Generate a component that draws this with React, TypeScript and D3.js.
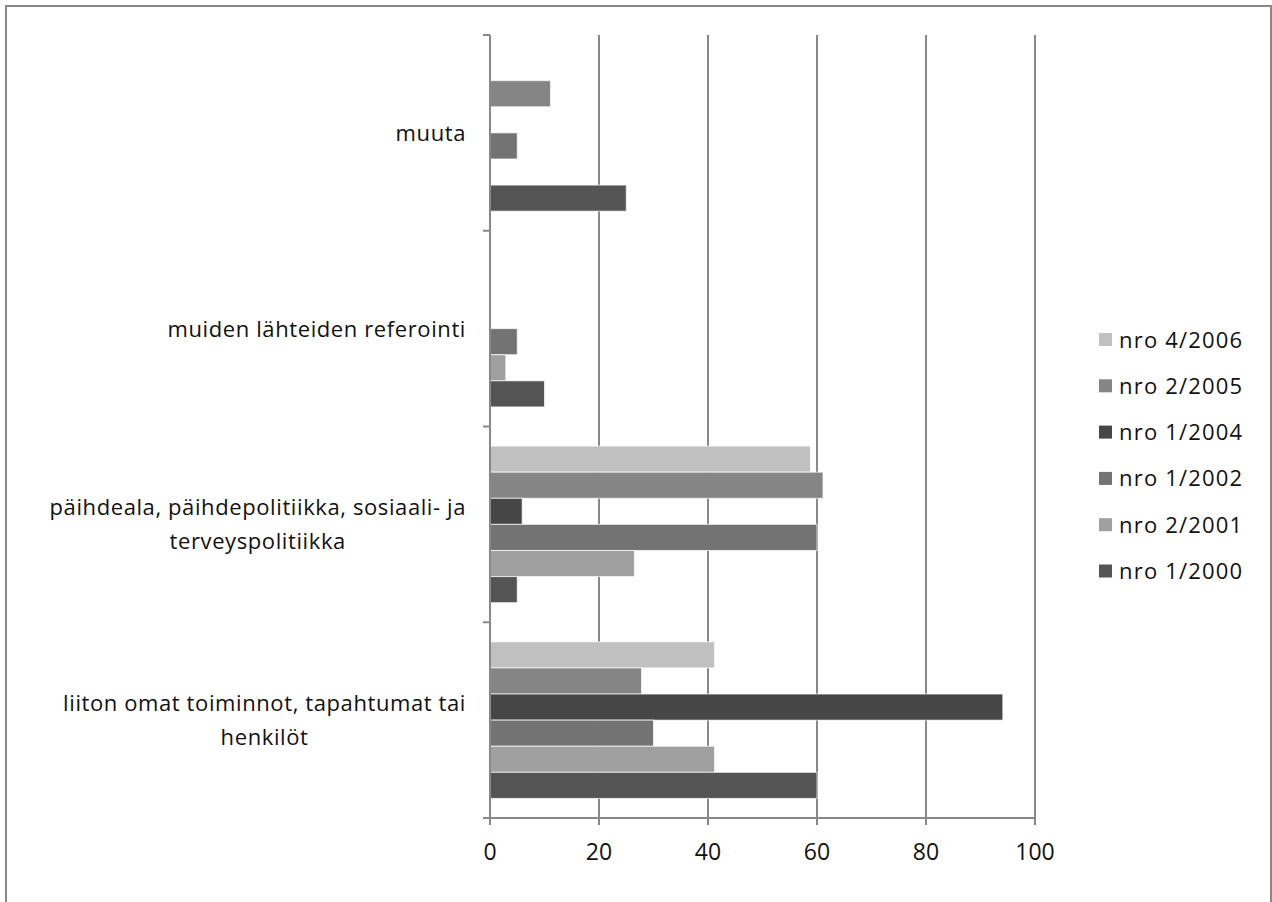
import React, { useEffect, useRef } from "react";
import * as d3 from "d3";

// Categories, top to bottom as displayed
const categories = [
  "muuta",
  "muiden lähteiden referointi",
  "päihdeala, päihdepolitiikka, sosiaali- ja|terveyspolitiikka",
  "liiton omat toiminnot, tapahtumat tai|henkilöt",
];

// Series, top to bottom within each group (also legend order)
const seriesNames = ["nro 4/2006", "nro 2/2005", "nro 1/2004", "nro 1/2002", "nro 2/2001", "nro 1/2000"];
const seriesColors = ["#c0c0c0", "#858585", "#464646", "#737373", "#a0a0a0", "#555555"];

// values per series, in category order [muuta, muiden, päihdeala, liiton]
const s2006_4 = [0, 0, 58.8, 41.2];
const s2005_2 = [11.1, 0, 61.1, 27.8];
const s2004_1 = [0, 0, 5.9, 94.1];
const s2002_1 = [5, 5, 60, 30];
const s2001_2 = [0, 2.9, 26.5, 41.2];
const s2000_1 = [25, 10, 5, 60];
const seriesValues = [s2006_4, s2005_2, s2004_1, s2002_1, s2001_2, s2000_1];

const xTicks = [0, 20, 40, 60, 80, 100];

const W = 1272;
const H = 902;
const FONT = "'Open Sans', Lato, sans-serif";

export default function App() {
  const ref = useRef<SVGSVGElement>(null);

  useEffect(() => {
    const svg = d3.select(ref.current);
    svg.selectAll("*").remove();

    const left = 490, right = 1035, top = 35, bottom = 818;
    const x = d3.scaleLinear().domain([0, 100]).range([left, right]);
    const y = d3.scaleBand<string>().domain(categories).range([top, bottom]).paddingInner(0).paddingOuter(0);
    const bw = y.bandwidth();
    const inner = d3.scaleBand<string>().domain(seriesNames).range([bw * 0.1, bw * 0.9]).padding(0);

    // frame
    svg.append("rect").attr("x", 6).attr("y", 6).attr("width", 1265).attr("height", 910)
      .attr("fill", "#fff").attr("stroke", "#888").attr("stroke-width", 2);

    // gridlines
    svg.append("g").selectAll("line").data(xTicks.filter(t => t > 0)).join("line")
      .attr("x1", d => x(d)).attr("x2", d => x(d)).attr("y1", top).attr("y2", bottom)
      .attr("stroke", "#888").attr("stroke-width", 2);

    // bars
    const g = svg.append("g");
    seriesNames.forEach((s, si) => {
      g.append("g").selectAll("rect").data(seriesValues[si].map((v, ci) => ({ v, c: categories[ci] })).filter(d => d.v > 0))
        .join("rect")
        .attr("x", x(0)).attr("y", d => (y(d.c) as number) + (inner(s) as number))
        .attr("width", d => x(d.v) - x(0)).attr("height", inner.bandwidth())
        .attr("fill", seriesColors[si]).attr("stroke", "rgba(255,255,255,0.7)").attr("stroke-width", 1);
    });

    // y axis
    svg.append("line").attr("x1", left).attr("x2", left).attr("y1", top).attr("y2", bottom + 7)
      .attr("stroke", "#888").attr("stroke-width", 2);
    const yTickPos = categories.map(c => y(c) as number).concat([bottom]);
    svg.append("g").selectAll("line").data(yTickPos).join("line")
      .attr("x1", left - 7).attr("x2", left).attr("y1", d => d).attr("y2", d => d)
      .attr("stroke", "#888").attr("stroke-width", 2);

    // x axis
    svg.append("line").attr("x1", left - 7).attr("x2", right).attr("y1", bottom).attr("y2", bottom)
      .attr("stroke", "#888").attr("stroke-width", 2);
    svg.append("g").selectAll("line").data(xTicks).join("line")
      .attr("x1", d => x(d)).attr("x2", d => x(d)).attr("y1", bottom).attr("y2", bottom + 7)
      .attr("stroke", "#888").attr("stroke-width", 2);
    svg.append("g").selectAll("text").data(xTicks).join("text")
      .attr("x", d => x(d)).attr("y", 860).attr("text-anchor", "middle")
      .attr("font-family", FONT).attr("font-size", 23).attr("fill", "#111").text(d => String(d));

    // category labels
    const labelRight = 466;
    categories.forEach(c => {
      const lines = c.split("|");
      const cy = (y(c) as number) + bw / 2;
      const t = svg.append("text").attr("font-family", FONT).attr("font-size", 22).attr("letter-spacing", 0.6)
        .attr("fill", "#111").attr("text-anchor", "middle");
      const baseStart = lines.length === 1 ? cy + 8 : cy - 9;
      const spans = lines.map((ln, i) =>
        t.append("tspan").attr("x", 0).attr("y", baseStart + i * 34).text(ln));
      const maxW = d3.max(spans, sp => (sp.node() as SVGTSpanElement).getComputedTextLength()) || 0;
      spans.forEach(sp => sp.attr("x", labelRight - maxW / 2));
    });

    // legend
    const lg = svg.append("g");
    seriesNames.forEach((s, i) => {
      const cy = 339.5 + i * 46.3;
      lg.append("rect").attr("x", 1099).attr("y", cy - 6.5).attr("width", 13).attr("height", 13)
        .attr("fill", seriesColors[i]);
      lg.append("text").attr("x", 1119).attr("y", cy + 8).attr("font-family", FONT).attr("font-size", 22)
        .attr("letter-spacing", 1.2).attr("fill", "#111").text(s);
    });
  }, []);

  return (
    <div style={{ position: "absolute", left: 0, top: 0, width: W, height: H, overflow: "hidden" }}>
      <svg ref={ref} width={W} height={H} style={{ display: "block", background: "#fff" }} />
    </div>
  );
}
